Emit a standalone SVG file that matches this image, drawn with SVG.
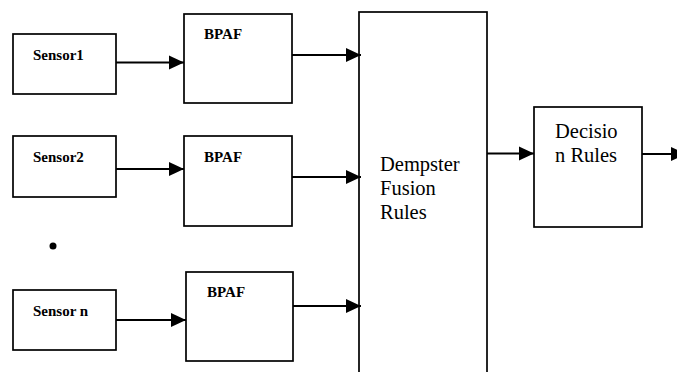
<svg xmlns="http://www.w3.org/2000/svg" width="677" height="372" viewBox="0 0 677 372">
  <style>
    .box { fill: #fff; stroke: #000; stroke-width: 1.7; }
    .lbl-b { font-weight: bold; font-size: 15px; fill: #000; }
    .lbl { font-size: 20.5px; fill: #000; }
    .wire { stroke: #000; stroke-width: 2; fill: none; marker-end: url(#arrow); }
  </style>
  <defs>
    <marker id="arrow" markerUnits="userSpaceOnUse" markerWidth="15" markerHeight="14" refX="15" refY="7" orient="auto" overflow="visible">
      <path d="M0,0 L15,7 L0,14 Z" fill="#000"/>
    </marker>
  </defs>
  <rect width="677" height="372" fill="#fff"/>

  <g font-family="'Liberation Serif', 'DejaVu Serif', serif">
  <g id="sensor1">
    <rect class="box" x="13" y="34" width="103" height="60"/>
    <text class="lbl-b" x="33" y="60">Sensor1</text>
  </g>
  <g id="bpaf1">
    <rect class="box" x="184" y="14" width="108" height="89"/>
    <text class="lbl-b" x="204" y="39">BPAF</text>
  </g>
  <g id="sensor2">
    <rect class="box" x="13" y="136" width="103" height="61"/>
    <text class="lbl-b" x="33" y="162">Sensor2</text>
  </g>
  <g id="bpaf2">
    <rect class="box" x="184" y="136" width="108" height="90"/>
    <text class="lbl-b" x="204" y="162">BPAF</text>
  </g>
  <g id="ellipsis">
    <circle cx="53" cy="246" r="3.5" fill="#000"/>
  </g>
  <g id="sensorn">
    <rect class="box" x="13" y="290" width="103" height="60"/>
    <text class="lbl-b" x="33" y="316">Sensor n</text>
  </g>
  <g id="bpaf3">
    <rect class="box" x="186" y="272" width="107" height="89"/>
    <text class="lbl-b" x="207" y="297">BPAF</text>
  </g>
  <g id="dempster">
    <rect class="box" x="359" y="12" width="128" height="370"/>
    <text class="lbl" x="380" y="171">Dempster</text>
    <text class="lbl" x="380" y="195">Fusion</text>
    <text class="lbl" x="380" y="219">Rules</text>
  </g>
  <g id="decision">
    <rect class="box" x="534" y="107" width="108" height="120"/>
    <text class="lbl" x="555" y="138">Decisio</text>
    <text class="lbl" x="555" y="162">n Rules</text>
  </g>
  </g>

  <g id="connectors">
    <line class="wire" x1="116" y1="62.5" x2="184" y2="62.5"/>
    <line class="wire" x1="116" y1="169" x2="184" y2="169"/>
    <line class="wire" x1="116" y1="320" x2="186" y2="320"/>
    <line class="wire" x1="292" y1="55" x2="361" y2="55"/>
    <line class="wire" x1="292" y1="177" x2="361" y2="177"/>
    <line class="wire" x1="293" y1="306" x2="361" y2="306"/>
    <line class="wire" x1="487" y1="153.5" x2="534" y2="153.5"/>
    <line class="wire" x1="642" y1="154" x2="686" y2="154"/>
  </g>
</svg>
